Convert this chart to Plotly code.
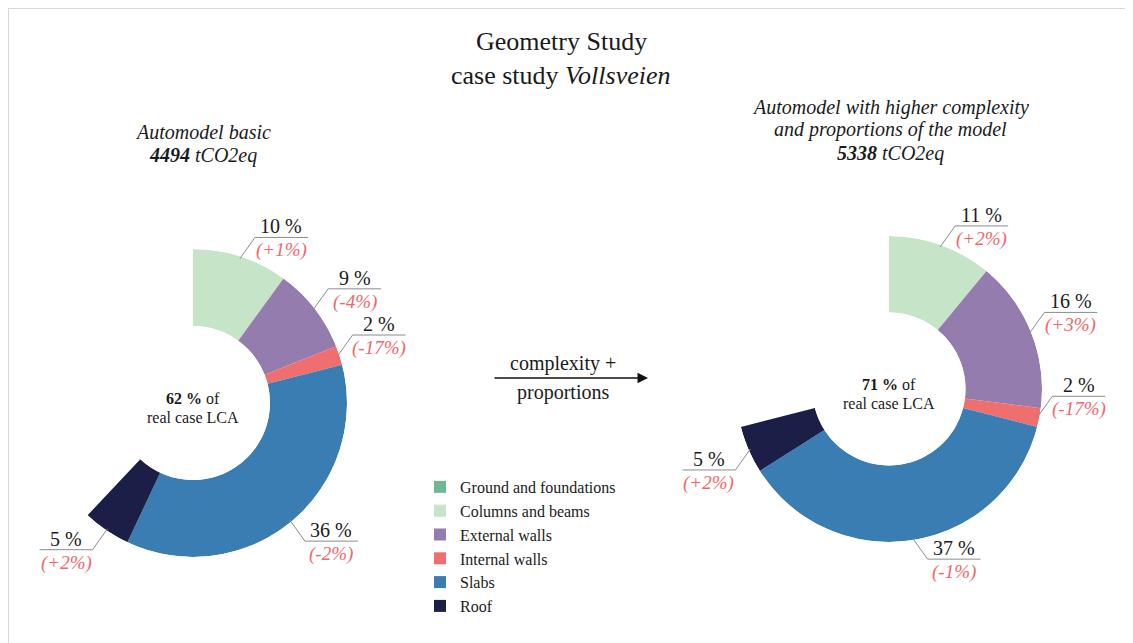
import math
import plotly.graph_objects as go

# ---------------- data ----------------
categories = ["Ground and foundations", "Columns and beams", "External walls",
              "Internal walls", "Slabs", "Roof"]
colors = ["#6fb890", "#c6e4c7", "#947cae", "#ef6f6f", "#3a7db3", "#1b1f47"]

left_share = [0, 10, 9, 2, 36, 5]          # % of real case LCA
left_delta = [None, 1, -4, -17, -2, 2]     # change vs real case (%)
right_share = [0, 11, 16, 2, 37, 5]
right_delta = [None, 2, 3, -17, -1, 2]

left_total = 4494     # tCO2eq
right_total = 5338
left_real = 62        # % of real case LCA
right_real = 71

# ---------------- layout helpers ----------------
OFF = 8                      # page body margin of the browser
W, H = 1133 - OFF, 643 - OFF  # figure size so that it fills the window
FONT = "Liberation Serif"
TXT = "#1a1a1a"
RED = "#f0666a"


def px(x):
    return (x - OFF) / W


def py(y):
    return 1 - (y - OFF) / H


fig = go.Figure()
shapes = []
annotations = []

donuts = [
    dict(cx=193, cy=403, R=154, shares=left_share, deltas=left_delta, polar="polar", key=0),
    dict(cx=889, cy=389, R=153, shares=right_share, deltas=right_delta, polar="polar2", key=1),
]

for d in donuts:
    cx, cy, R = d["cx"], d["cy"], d["R"]
    start = 0.0
    for i, (cat, v, dl) in enumerate(zip(categories, d["shares"], d["deltas"])):
        width = v * 3.6
        theta = start + width / 2
        fig.add_trace(go.Barpolar(
            r=[1], base=[0], theta=[theta], width=[width],
            name=cat, marker=dict(color=colors[i], line=dict(width=0)),
            subplot=d["polar"], showlegend=(d["key"] == 0), legendgroup=cat,
            hoverinfo="skip",
        ))
        if v > 0:
            a = math.radians(theta)
            sx = 1 if math.sin(a) >= 0 else -1
            sy = -1 if math.cos(a) > -0.3 else 1
            x0 = cx + (R - 2) * math.sin(a)
            y0 = cy - (R - 2) * math.cos(a)
            x1 = x0 + 15 * sx
            y1 = y0 + 21 * sy
            x2 = x1 + 53 * sx
            line = dict(color="#8c8c8c", width=1)
            shapes.append(dict(type="line", xref="paper", yref="paper",
                               x0=px(x0), y0=py(y0), x1=px(x1), y1=py(y1), line=line))
            shapes.append(dict(type="line", xref="paper", yref="paper",
                               x0=px(x1), y0=py(y1), x1=px(x2), y1=py(y1), line=line))
            xm = (x1 + x2) / 2
            annotations.append(dict(x=px(xm), y=py(y1 - 11), xref="paper", yref="paper",
                                    text=f"{v} %", showarrow=False,
                                    font=dict(family=FONT, size=20, color=TXT),
                                    xanchor="center", yanchor="middle"))
            annotations.append(dict(x=px(xm), y=py(y1 + 13), xref="paper", yref="paper",
                                    text=f"<i>({dl:+d}%)</i>", showarrow=False,
                                    font=dict(family=FONT, size=19, color=RED),
                                    xanchor="center", yanchor="middle"))
        start += width

    # center text
    real = left_real if d["key"] == 0 else right_real
    annotations.append(dict(x=px(cx), y=py(cy - 5), xref="paper", yref="paper",
                            text=f"<b>{real} %</b> of", showarrow=False,
                            font=dict(family=FONT, size=16, color=TXT),
                            xanchor="center", yanchor="middle"))
    annotations.append(dict(x=px(cx), y=py(cy + 14), xref="paper", yref="paper",
                            text="real case LCA", showarrow=False,
                            font=dict(family=FONT, size=16, color=TXT),
                            xanchor="center", yanchor="middle"))


def polar_layout(cx, cy, R):
    return dict(
        domain=dict(x=[px(cx - R), px(cx + R)], y=[py(cy + R), py(cy - R)]),
        hole=0.5,
        bgcolor="rgba(0,0,0,0)",
        radialaxis=dict(range=[0, 1], visible=False, showgrid=False),
        angularaxis=dict(rotation=90, direction="clockwise", visible=False,
                         showgrid=False, showline=False, showticklabels=False, ticks=""),
    )


# titles
def txt(x, y, text, size, color=TXT):
    annotations.append(dict(x=px(x), y=py(y), xref="paper", yref="paper", text=text,
                            showarrow=False, font=dict(family=FONT, size=size, color=color),
                            xanchor="center", yanchor="middle"))


txt(561, 42, "Geometry Study", 26)
txt(561, 76, "case study <i>Vollsveien</i>", 26)

txt(203, 132, "<i>Automodel basic</i>", 20)
txt(203, 156, f"<b><i>{left_total}</i></b><i> tCO2eq</i>", 20)

txt(890, 107, "<i>Automodel with higher complexity</i>", 20)
txt(890, 130, "<i>and proportions of the model</i>", 20)
txt(890, 154, f"<b><i>{right_total}</i></b><i> tCO2eq</i>", 20)

# arrow
txt(563, 363, "complexity +", 20)
txt(563, 392, "proportions", 20)
annotations.append(dict(x=px(648), y=py(378), xref="paper", yref="paper",
                        ax=-(648 - 493), ay=0, axref="pixel", ayref="pixel",
                        text="", showarrow=True, arrowhead=2, arrowsize=1.4,
                        arrowwidth=1.5, arrowcolor="#111"))

# frame
shapes.append(dict(type="line", xref="paper", yref="paper", x0=0, y0=1,
                   x1=1, y1=1, line=dict(color="#d9d9d9", width=2)))
shapes.append(dict(type="line", xref="paper", yref="paper", x0=0, y0=1,
                   x1=0, y1=0, line=dict(color="#d9d9d9", width=2)))

fig.update_layout(
    width=W, height=H,
    margin=dict(l=0, r=0, t=0, b=0),
    paper_bgcolor="white", plot_bgcolor="white",
    polar=polar_layout(193, 403, 154),
    polar2=polar_layout(889, 389, 153),
    shapes=shapes, annotations=annotations,
    showlegend=True,
    legend=dict(x=px(420), y=py(470), xanchor="left", yanchor="top",
                font=dict(family=FONT, size=16, color=TXT),
                bgcolor="rgba(0,0,0,0)", traceorder="normal"),
    font=dict(family=FONT),
)

fig.write_html("out.html")
